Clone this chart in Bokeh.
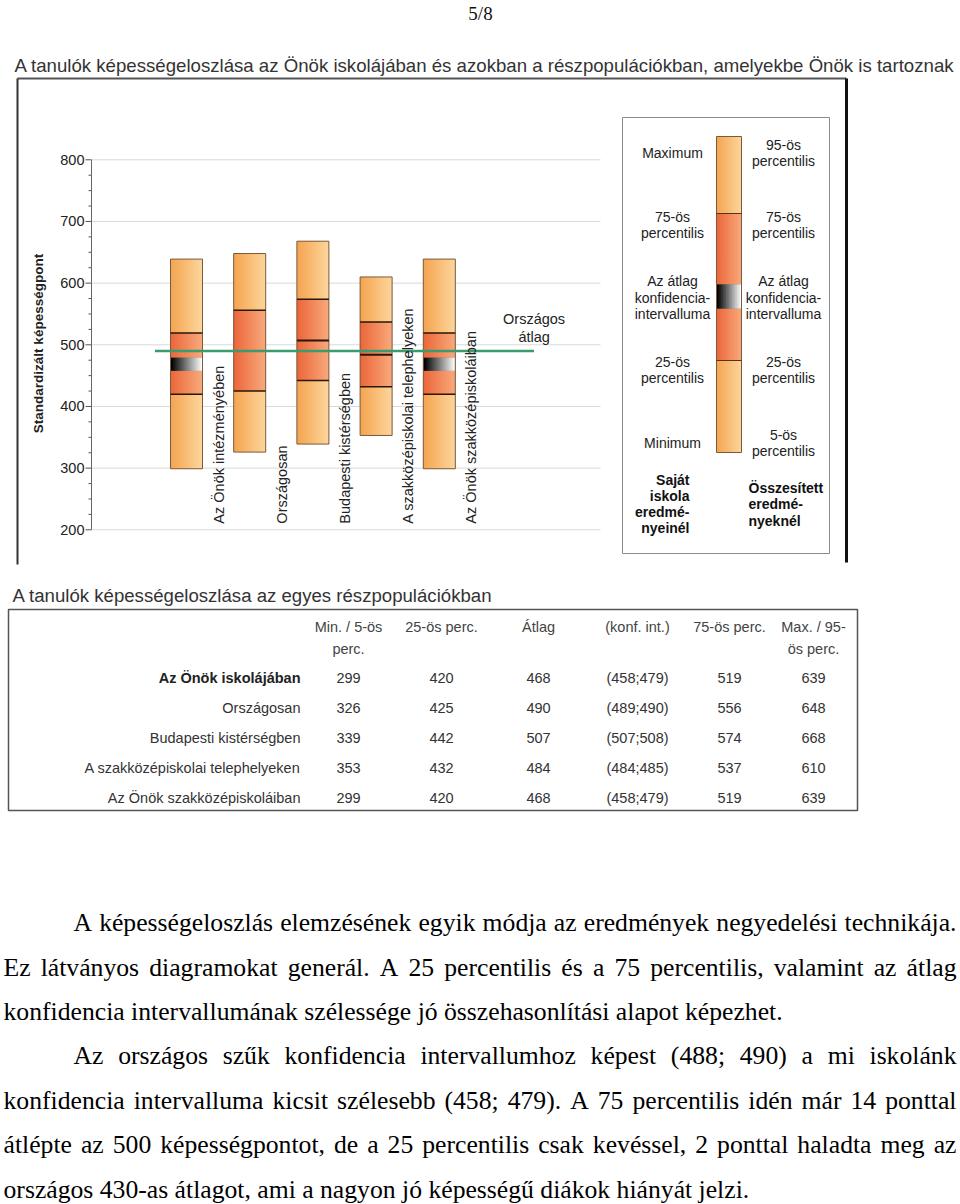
import glob
import os
import struct
import numpy as np
from bokeh.plotting import figure
from bokeh.models import Range1d
from bokeh.core.properties import value
from bokeh.embed import file_html
from bokeh.resources import INLINE

# ---------------- data ----------------
categories = ["Az Önök intézményében", "Országosan", "Budapesti kistérségben",
              "A szakközépiskolai telephelyeken", "Az Önök szakközépiskoláiban"]
table_rows = ["Az Önök iskolájában", "Országosan", "Budapesti kistérségben",
              "A szakközépiskolai telephelyeken", "Az Önök szakközépiskoláiban"]
p_min = [299, 326, 339, 353, 299]
p25 = [420, 425, 442, 432, 420]
mean = [468, 490, 507, 484, 468]
ci_lo = [458, 489, 507, 484, 458]
ci_hi = [479, 490, 508, 485, 479]
p75 = [519, 556, 574, 537, 519]
p_max = [639, 648, 668, 610, 639]
national_mean = 490
y_ticks = [200, 300, 400, 500, 600, 700, 800]
y_minor_step = 25
table_headers = [["Min. / 5-ös", "perc."], ["25-ös perc."], ["Átlag"], ["(konf. int.)"],
                 ["75-ös perc."], ["Max. / 95-", "ös perc."]]
page_no = "5/8"
chart_title = ("A tanulók képességeloszlása az Önök iskolájában és azokban a "
               "részpopulációkban, amelyekbe Önök is tartoznak")
table_title = "A tanulók képességeloszlása az egyes részpopulációkban"
y_label = "Standardizált képességpont"
nat_label = ["Országos", "átlag"]
legend_left = [["Maximum"], ["75-ös", "percentilis"], ["Az átlag", "konfidencia-", "intervalluma"],
               ["25-ös", "percentilis"], ["Minimum"]]
legend_right = [["95-ös", "percentilis"], ["75-ös", "percentilis"],
                ["Az átlag", "konfidencia-", "intervalluma"], ["25-ös", "percentilis"],
                ["5-ös", "percentilis"]]
legend_left_bold = ["Saját", "iskola", "eredmé-", "nyeinél"]
legend_right_bold = ["Összesített", "eredmé-", "nyeknél"]
paragraph_lines = [
    "A képességeloszlás elemzésének egyik módja az eredmények negyedelési technikája.",
    "Ez látványos diagramokat generál. A 25 percentilis és a 75 percentilis, valamint az átlag",
    "konfidencia intervallumának szélessége jó összehasonlítási alapot képezhet.",
    "Az országos szűk konfidencia intervallumhoz képest (488; 490) a mi iskolánk",
    "konfidencia intervalluma kicsit szélesebb (458; 479). A 75 percentilis idén már 14 ponttal",
    "átlépte az 500 képességpontot, de a 25 percentilis csak kevéssel, 2 ponttal haladta meg az",
    "országos 430-as átlagot, ami a nagyon jó képességű diákok hiányát jelzi.",
]
paragraph_indent = [True, False, False, True, False, False, False]
paragraph_justify = [True, True, False, True, True, True, False]


# ---------------- font metrics (for sizing / justification) ----------------
def find_font(fname):
    for base in ("/usr/share/fonts", "/usr/local/share/fonts", os.path.expanduser("~/.fonts"),
                 os.path.expanduser("~/.local/share/fonts")):
        r = glob.glob(os.path.join(base, "**", fname), recursive=True)
        if r:
            return r[0]
    return None


def load_metrics(path):
    try:
        data = open(path, "rb").read()
        ntab = struct.unpack(">H", data[4:6])[0]
        tabs = {}
        for i in range(ntab):
            tag, _, off, ln = struct.unpack(">4sIII", data[12 + 16 * i:28 + 16 * i])
            tabs[tag.decode("latin1")] = off
        hd = tabs["head"]
        upem = struct.unpack(">H", data[hd + 18:hd + 20])[0]
        hh = tabs["hhea"]
        nhm = struct.unpack(">H", data[hh + 34:hh + 36])[0]
        hm = tabs["hmtx"]
        adv = [struct.unpack(">H", data[hm + 4 * i:hm + 4 * i + 2])[0] for i in range(nhm)]
        cm = tabs["cmap"]
        nsub = struct.unpack(">H", data[cm + 2:cm + 4])[0]
        sub = None
        for i in range(nsub):
            pid, eid, off = struct.unpack(">HHI", data[cm + 4 + 8 * i:cm + 12 + 8 * i])
            fmt = struct.unpack(">H", data[cm + off:cm + off + 2])[0]
            if fmt == 4 and pid in (0, 3):
                sub = cm + off
                break
        o = sub
        s2 = struct.unpack(">H", data[o + 6:o + 8])[0]
        n = s2 // 2
        ends = struct.unpack(">%dH" % n, data[o + 14:o + 14 + s2])
        starts = struct.unpack(">%dH" % n, data[o + 16 + s2:o + 16 + 2 * s2])
        deltas = struct.unpack(">%dh" % n, data[o + 16 + 2 * s2:o + 16 + 3 * s2])
        rpos = o + 16 + 3 * s2
        roffs = struct.unpack(">%dH" % n, data[rpos:rpos + s2])

        def gid(c):
            for k in range(n):
                if ends[k] >= c:
                    if starts[k] > c:
                        return 0
                    if roffs[k] == 0:
                        return (c + deltas[k]) & 0xFFFF
                    a = rpos + 2 * k + roffs[k] + 2 * (c - starts[k])
                    g = struct.unpack(">H", data[a:a + 2])[0]
                    return (g + deltas[k]) & 0xFFFF if g else 0
            return 0

        def width(s):
            return sum(adv[min(gid(ord(ch)), nhm - 1)] for ch in s) / upem
        return width
    except Exception:
        return None


def fallback(avg):
    return lambda s: avg * len(s)

_sp = find_font("LiberationSerif-Regular.ttf")
_ss = find_font("LiberationSans-Regular.ttf")
serif_w = (load_metrics(_sp) if _sp else None) or fallback(0.45)
sans_w = (load_metrics(_ss) if _ss else None) or fallback(0.5)

# ---------------- layout constants (page pixels) ----------------
W, H = 960, 1204
Y500 = 344.3        # page y of score 500
PXPT = 0.6167       # pixels per score point
CX0 = 186.0         # page x of first category centre
CSTEP = 63.2        # pixels per category
BAR_W = 32.0 / CSTEP

SANS = value("Liberation Sans")
SERIF = value("Liberation Serif")

p = figure(width=W, height=H, output_backend="svg", toolbar_location=None,
           x_range=Range1d(0, W), y_range=Range1d(H, 0),
           min_border=0, min_border_left=0, min_border_right=0,
           min_border_top=0, min_border_bottom=0)
p.axis.visible = False
p.grid.visible = False
p.outline_line_color = None
p.background_fill_color = "white"
p.border_fill_color = "white"


def u(px):
    return (px - CX0) / CSTEP

p.extra_x_ranges = {"cat": Range1d(u(0), u(W))}
p.extra_y_ranges = {"score": Range1d(500 - (H - Y500) / PXPT, 500 + Y500 / PXPT)}
C = dict(x_range_name="cat", y_range_name="score")


def txt(xs, ys, texts, size, align="left", baseline="middle", color="#222",
        font=SANS, style="normal", angle=0.0, **kw):
    p.text(x=xs, y=ys, text=texts, text_font=font, text_font_size=size,
           text_align=align, text_baseline=baseline, text_color=color,
           text_font_style=style, angle=angle, **kw)


def lerp(c1, c2, t):
    return "#%02x%02x%02x" % tuple(int(round(a + (b - a) * t)) for a, b in zip(c1, c2))

LIGHT = ((245, 166, 82), (252, 212, 154))
MID = ((236, 104, 60), (247, 168, 122))
CIG = ((0, 0, 0), (250, 250, 250))
NS = 16


def strips(xc, w, bot, top, cols, acc):
    # solid base first (hides seams), then the gradient strips
    acc["left"].append(xc - w / 2); acc["right"].append(xc + w / 2)
    acc["bottom"].append(bot); acc["top"].append(top)
    acc["color"].append(lerp(cols[0], cols[1], 0.5))
    edges = np.linspace(xc - w / 2, xc + w / 2, NS + 1)
    step = edges[1] - edges[0]
    for k in range(NS):
        acc["left"].append(edges[k])
        acc["right"].append(min(edges[k + 1] + step * 0.6, xc + w / 2))
        acc["bottom"].append(bot)
        acc["top"].append(top)
        acc["color"].append(lerp(cols[0], cols[1], k / (NS - 1)))


def fit_size(wfun, s, target, lo, hi):
    w = wfun(s)
    return max(lo, min(hi, target / w)) if w > 0 else lo

# ---------------- page header & frame ----------------
txt([480], [13], [page_no], "19px", align="center", font=SERIF, color="#111")
ts = fit_size(sans_w, chart_title, 941, 15, 20)
txt([14], [65], [chart_title], "%.2fpx" % ts, color="#333")
p.segment(x0=[17, 17, 846], y0=[78, 78, 78], x1=[846, 17, 846], y1=[78, 564, 562],
          line_color=["#555", "#333", "#111"], line_width=[2, 2, 3])

# ---------------- chart ----------------
ax_u = u(91)
grid_end = u(600)
p.segment(x0=[ax_u] * len(y_ticks), y0=y_ticks, x1=[grid_end] * len(y_ticks), y1=y_ticks,
          line_color="#d9d9d9", line_width=1, **C)
minor = [v for v in range(y_ticks[0], y_ticks[-1] + 1, y_minor_step)]
p.segment(x0=[ax_u - (3 if v not in y_ticks else 6) / CSTEP for v in minor], y0=minor,
          x1=[ax_u] * len(minor), y1=minor, line_color="#555", line_width=1, **C)
p.segment(x0=[ax_u], y0=[y_ticks[0]], x1=[ax_u], y1=[y_ticks[-1]],
          line_color="#666", line_width=1, **C)
txt([ax_u - 7 / CSTEP] * len(y_ticks), y_ticks, [str(v) for v in y_ticks], "14.5px",
    align="right", color="#222", **C)
txt([38], [343], [y_label], "13.5px", align="center", style="bold", color="#222",
    angle=np.pi / 2)

acc = {k: [] for k in ("left", "right", "bottom", "top", "color")}
for i in range(len(categories)):
    strips(i, BAR_W, p_min[i], p_max[i], LIGHT, acc)
    strips(i, BAR_W, p25[i], p75[i], MID, acc)
    if ci_hi[i] - ci_lo[i] > 4:
        strips(i, BAR_W, ci_lo[i], ci_hi[i], CIG, acc)
p.quad(left="left", right="right", bottom="bottom", top="top", fill_color="color",
       line_color=None, source=acc, **C)
xs = list(range(len(categories)))
p.quad(left=[x - BAR_W / 2 for x in xs], right=[x + BAR_W / 2 for x in xs],
       bottom=p_min, top=p_max, fill_color=None, line_color="#7a5a3c", line_width=1, **C)
seg_x0, seg_x1, seg_y, seg_w = [], [], [], []
for i in xs:
    for v in (p25[i], p75[i]):
        seg_x0.append(i - BAR_W / 2); seg_x1.append(i + BAR_W / 2); seg_y.append(v); seg_w.append(1.5)
    if ci_hi[i] - ci_lo[i] <= 4:
        seg_x0.append(i - BAR_W / 2); seg_x1.append(i + BAR_W / 2); seg_y.append(mean[i]); seg_w.append(2)
p.segment(x0=seg_x0, y0=seg_y, x1=seg_x1, y1=seg_y, line_color="#2a160a",
          line_width=seg_w, **C)

p.segment(x0=[-0.5], y0=[national_mean], x1=[len(categories) + 0.5], y1=[national_mean],
          line_color="#3b9a6e", line_width=2.5, **C)
txt([len(categories) + 0.5] * 2,
    [national_mean + (350.5 - 319) / PXPT, national_mean + (350.5 - 337) / PXPT],
    nat_label, "14.5px", align="center", color="#222", **C)

txt([x + 32 / CSTEP for x in xs], [210] * len(xs), categories, "14.5px", align="left",
    baseline="middle", color="#222", angle=np.pi / 2, **C)

# ---------------- legend box ----------------
p.quad(left=[622], right=[829], bottom=[553], top=[117], fill_color=None,
       line_color="#8c8c8c", line_width=1)
lacc = {k: [] for k in ("left", "right", "bottom", "top", "color")}
LX, LW = 728.5, 25
strips(LX, LW, 452, 136, LIGHT, lacc)
strips(LX, LW, 360, 213, MID, lacc)
strips(LX, LW, 308, 284, CIG, lacc)
p.quad(left="left", right="right", bottom="bottom", top="top", fill_color="color",
       line_color=None, source=lacc)
p.quad(left=[LX - LW / 2], right=[LX + LW / 2], bottom=[452], top=[136], fill_color=None,
       line_color="#7a5a3c", line_width=1)
p.segment(x0=[LX - LW / 2] * 2, y0=[213, 360], x1=[LX + LW / 2] * 2, y1=[213, 360],
          line_color="#5a3018", line_width=1)

left_y = [[152], [216, 232], [280, 297, 313], [361, 377], [442]]
right_y = [[144, 160], [216, 232], [280, 297, 313], [361, 377], [434, 450]]
lx, ly, lt = [], [], []
for grp, ys in zip(legend_left, left_y):
    for t, yy in zip(grp, ys):
        lx.append(672); ly.append(yy); lt.append(t)
txt(lx, ly, lt, "14px", align="center", color="#222")
rx, ry, rt = [], [], []
for grp, ys in zip(legend_right, right_y):
    for t, yy in zip(grp, ys):
        rx.append(783); ry.append(yy); rt.append(t)
txt(rx, ry, rt, "14px", align="center", color="#222")
txt([689] * 4, [479, 495, 511, 527], legend_left_bold, "14px", align="right",
    style="bold", color="#111")
txt([748] * 3, [487, 503, 520], legend_right_bold, "14px", align="left",
    style="bold", color="#111")

# ---------------- table ----------------
tts = fit_size(sans_w, table_title, 480, 15, 20)
txt([12], [595], [table_title], "%.2fpx" % tts, color="#333")
p.quad(left=[8], right=[857], bottom=[810], top=[609], fill_color=None,
       line_color="#555", line_width=1.5)
col_x = [348, 441, 538, 637, 729, 813]
hx, hy, ht = [], [], []
for cx, hdr in zip(col_x, table_headers):
    for k, t in enumerate(hdr):
        hx.append(cx); hy.append(626 + 22 * k); ht.append(t)
txt(hx, hy, ht, "14.5px", align="center", color="#444")
row_y = [677, 707, 737, 767, 797]
txt([300], [row_y[0]], [table_rows[0]], "14.5px", align="right", style="bold", color="#222")
txt([300] * 4, row_y[1:], table_rows[1:], "14.5px", align="right", color="#333")
cols = [p_min, p25, mean, ["(%d;%d)" % (a, b) for a, b in zip(ci_lo, ci_hi)], p75, p_max]
vx, vy, vt = [], [], []
for cx, colv in zip(col_x, cols):
    for yy, v in zip(row_y, colv):
        vx.append(cx); vy.append(yy); vt.append(str(v))
txt(vx, vy, vt, "14.5px", align="center", color="#333")

# ---------------- paragraph (justified) ----------------
fs = 0.5 * (778 / serif_w(paragraph_lines[2]) + 747 / serif_w(paragraph_lines[6]))
fs = max(18.0, min(27.0, fs))
par_y = [922, 967, 1011, 1055, 1100, 1144, 1189]
RIGHT = 956
wx, wy, wt = [], [], []
for line, yy, ind, just in zip(paragraph_lines, par_y, paragraph_indent, paragraph_justify):
    x0 = 73 if ind else 3
    words = line.split(" ")
    if just and len(words) > 1:
        ww = [serif_w(w) * fs for w in words]
        gap = (RIGHT - x0 - sum(ww)) / (len(words) - 1)
        gap = max(gap, serif_w(" ") * fs * 0.8)
        x = x0
        for w, wdt in zip(words, ww):
            wx.append(x); wy.append(yy); wt.append(w)
            x += wdt + gap
    else:
        wx.append(x0); wy.append(yy); wt.append(line)
txt(wx, wy, wt, "%.2fpx" % fs, align="left", color="#000", font=SERIF)

open("out.html", "w").write(file_html(p, INLINE))
